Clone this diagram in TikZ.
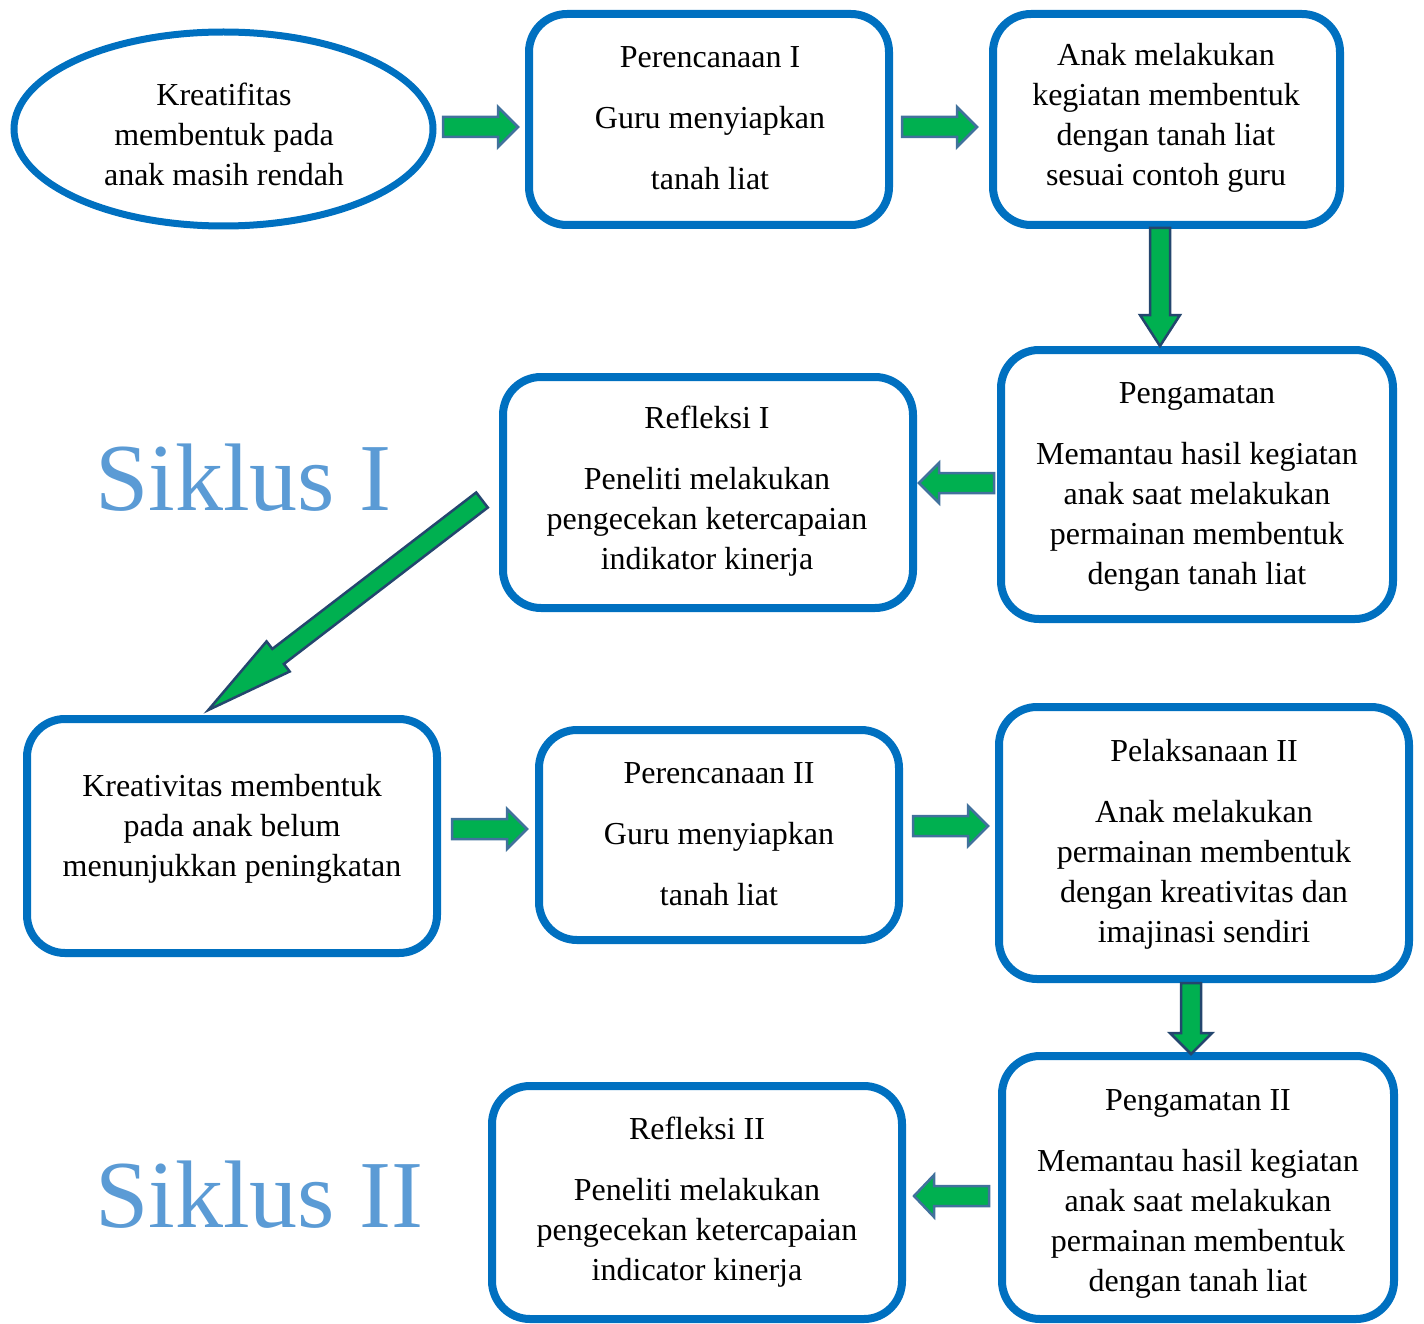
\documentclass[tikz,border=0pt]{standalone}
\usepackage{fontspec}
\setmainfont{Liberation Serif}
\usetikzlibrary{shapes.geometric}
\definecolor{boxblue}{HTML}{0070C0}
\definecolor{siklus}{HTML}{5B9BD5}
\definecolor{agreen}{HTML}{00B050}
\definecolor{aline}{HTML}{41719C}
\definecolor{adark}{HTML}{24466E}
\tikzset{
  boxnode/.style={draw=boxblue, line width=8pt, rounded corners=38pt, inner sep=0pt},
  ovalnode/.style={draw=boxblue, line width=7pt, ellipse, inner sep=0pt},
  txt/.style={align=center, inner sep=0pt, font=\fontsize{32}{40}\selectfont},
  bigtxt/.style={inner sep=0pt, text=siklus, font=\fontsize{96}{110}\selectfont, anchor=base west},
  barrowstyle/.style={fill=agreen, draw=aline, line width=2.5pt, line join=miter},
}
% #1 options, #2 start coordinate, #3 angle, #4 length, #5 shaft half width, #6 head half width, #7 head length
\newcommand{\bkarrow}[7][]{%
  \draw[barrowstyle,#1,shift={#2},rotate=#3]
    (0,-#5) -- ({#4-#7},-#5) -- ({#4-#7},-#6) -- (#4,0) -- ({#4-#7},#6) -- ({#4-#7},#5) -- (0,#5) -- cycle;}
\begin{document}
\begin{tikzpicture}[x=1pt,y=-1pt]
\useasboundingbox (0,0) rectangle (1424,1324);
% shapes
\node[ovalnode, minimum width=419pt, minimum height=194pt] (e1) at (223.5,129) {};
\node[boxnode, minimum width=360pt, minimum height=211pt] (b2) at (709,119.5) {};
\node[boxnode, minimum width=347pt, minimum height=211pt] (b3) at (1166.5,119.5) {};
\node[boxnode, minimum width=392pt, minimum height=269pt] (b4) at (1197,484.5) {};
\node[boxnode, minimum width=410pt, minimum height=231pt] (b5) at (708,492.5) {};
\node[boxnode, minimum width=410pt, minimum height=234pt] (b6) at (232,836) {};
\node[boxnode, minimum width=360pt, minimum height=210pt] (b7) at (719,835) {};
\node[boxnode, minimum width=410pt, minimum height=272pt] (b8) at (1204,843) {};
\node[boxnode, minimum width=392pt, minimum height=263pt] (b9) at (1198,1187.5) {};
\node[boxnode, minimum width=410pt, minimum height=233pt] (b10) at (697,1202.5) {};
% texts
\node[txt] (t1) at (224,134) {Kreatifitas\\membentuk pada\\anak masih rendah};
\node[txt] (t2) at (710,118.5) {Perencanaan I\\[21pt]Guru menyiapkan\\[21pt]tanah liat};
\node[txt] (t3) at (1166,117.5) {Anak melakukan\\kegiatan membentuk\\dengan tanah liat\\sesuai contoh guru};
\node[txt] (t4) at (1197,487) {Pengamatan\\[21pt]Memantau hasil kegiatan\\anak saat melakukan\\permainan membentuk\\dengan tanah liat};
\node[txt] (t5) at (707,491.5) {Refleksi I\\[21pt]Peneliti melakukan\\pengecekan ketercapaian\\indikator kinerja};
\node[txt] (t6) at (232,829) {Kreativitas membentuk\\pada anak belum\\menunjukkan peningkatan};
\node[txt] (t7) at (719,834.5) {Perencanaan II\\[21pt]Guru menyiapkan\\[21pt]tanah liat};
\node[txt] (t8) at (1204,844.5) {Pelaksanaan II\\[21pt]Anak melakukan\\permainan membentuk\\dengan kreativitas dan\\imajinasi sendiri};
\node[txt] (t9) at (1198,1193.5) {Pengamatan II\\[21pt]Memantau hasil kegiatan\\anak saat melakukan\\permainan membentuk\\dengan tanah liat};
\node[txt] (t10) at (697,1202.5) {Refleksi II\\[21pt]Peneliti melakukan\\pengecekan ketercapaian\\indicator kinerja};
\node[bigtxt] (s1) at (95,510) {Siklus I};
\node[bigtxt] (s2) at (95,1227) {Siklus II};
% block arrows
\bkarrow{(443,127)}{0}{75}{10}{20}{20}
\bkarrow{(902,127)}{0}{75}{10}{20}{20}
\bkarrow[draw=adark]{(1160,228)}{-90}{118}{10}{20}{31}
\bkarrow{(994,483)}{180}{75}{10}{20}{20}
\bkarrow[draw=adark]{(482,500)}{217.5}{345}{9.5}{19}{88}
\bkarrow{(452,829)}{0}{75}{10}{20}{20}
\bkarrow{(913,826)}{0}{75}{10}{20}{20}
\bkarrow[draw=adark]{(1191,983)}{-90}{71}{10}{21}{21}
\bkarrow{(989,1196)}{180}{75}{10}{21}{20}
\end{tikzpicture}
\end{document}
